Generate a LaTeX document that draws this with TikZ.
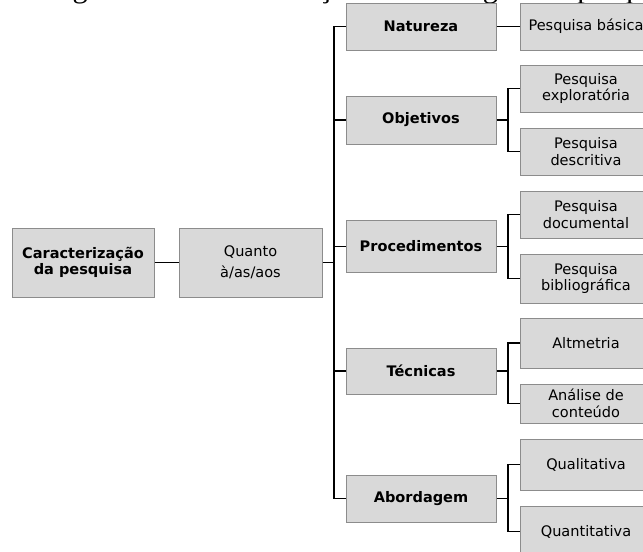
\documentclass[tikz,border=0pt]{standalone}
\usepackage{fontspec}
\setmainfont{DejaVu Sans}
\newfontfamily\capfont{Liberation Serif}
\definecolor{boxfill}{RGB}{217,217,217}
\definecolor{boxline}{RGB}{140,140,140}
\begin{document}
\begin{tikzpicture}[x=0.75pt,y=-0.75pt,
  box/.style={draw=boxline, fill=boxfill, line width=0.75pt, inner sep=0pt, align=center, font={\fontsize{10.9pt}{12.5pt}\selectfont}},
  bbox/.style={box, font={\fontsize{10.9pt}{12.5pt}\selectfont\bfseries}},
  sz/.style 2 args={minimum width=#1*0.75pt, minimum height=#2*0.75pt},
  conn/.style={line width=1.1pt, black}]
\useasboundingbox (0,0) rectangle (643,551);
\clip (0,0) rectangle (643,551);
\node[anchor=base west, inner sep=0pt, font={\capfont\fontsize{22.8pt}{27pt}\selectfont}] (cap) at (47,-2.5) {Figura 2 – Caracterização metodológica da pesquisa};

\node[bbox, sz={142}{69}] (car) at (83,262.5) {Caracterização\\da pesquisa};
\node[box, sz={143}{69}, font={\fontsize{10.9pt}{15.75pt}\selectfont}] (qua) at (250.5,262.5) {Quanto\\à/as/aos};

\node[bbox, sz={150}{47}] (nat) at (421,26.5) {Natureza};
\node[bbox, sz={150}{48}] (obj) at (421,120) {Objetivos};
\node[bbox, sz={150}{52}] (pro) at (421,246.5) {Procedimentos};
\node[bbox, sz={150}{46}] (tec) at (421,371) {Técnicas};
\node[bbox, sz={150}{47}] (abo) at (421,498.5) {Abordagem};

\node[box, sz={132}{47}] (bas) at (586,26.5) {Pesquisa básica};
\node[box, sz={132}{47}] (exp) at (586,88.5) {Pesquisa\\exploratória};
\node[box, sz={132}{47}] (des) at (586,151.5) {Pesquisa\\descritiva};
\node[box, sz={132}{47}] (doc) at (586,214.5) {Pesquisa\\documental};
\node[box, sz={132}{49}] (bib) at (586,278.5) {Pesquisa\\bibliográfica};
\node[box, sz={132}{50}] (alt) at (586,343) {Altmetria};
\node[box, sz={132}{39}] (ana) at (586,403.5) {Análise de\\conteúdo};
\node[box, sz={132}{51}] (qual) at (586,464.5) {Qualitativa};
\node[box, sz={132}{51}] (quan) at (586,531.5) {Quantitativa};

\coordinate (tx) at (334,0);
\coordinate (bx) at (508,0);

\draw[conn] (car) -- (qua);
\draw[conn] (qua.east) -- (qua.east -| tx);
\draw[conn] (nat.west) -- (nat.west -| tx) -- (abo.west -| tx) -- (abo.west);
\foreach \m in {obj,pro,tec} {\draw[conn] (\m.west -| tx) -- (\m.west);}
\draw[conn] (nat) -- (bas);
\foreach \m/\a/\b in {obj/exp/des, pro/doc/bib, tec/alt/ana, abo/qual/quan} {
  \draw[conn] (\m.east) -- (\m.east -| bx);
  \draw[conn] (\a.west) -- (\a.west -| bx) -- (\b.west -| bx) -- (\b.west);
}
\end{tikzpicture}
\end{document}
